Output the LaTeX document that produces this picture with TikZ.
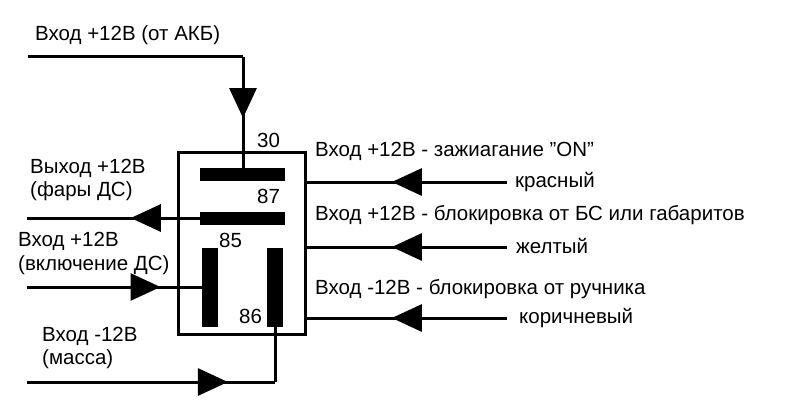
\documentclass[tikz,border=0pt]{standalone}
\usepackage{fontspec}
\setmainfont{Liberation Sans}
\usetikzlibrary{arrows.meta,decorations.markings}
\begin{document}
\begin{tikzpicture}[x=1pt,y=-1pt,
  wire/.style={line width=3pt},
  bar/.style={line width=13pt},
  vbar/.style={line width=16pt},
  mid/.style={postaction={decorate},decoration={markings,mark=at position #1 with {\arrow{Triangle[length=30pt,width=27pt]}}}},
  lbl/.style={font=\fontsize{20.5}{22}\selectfont,inner sep=0pt,anchor=west}]
\useasboundingbox (0,0) rectangle (800,404);
\fill[white] (0,0) rectangle (800,404);
\draw[wire] (178,152) rectangle (305,334);
% bars
\coordinate (b87l) at (200,174); \coordinate (b87r) at (285,174);
\coordinate (b85l) at (200,218); \coordinate (b85r) at (285,218);
\draw[bar] (b87l) -- (b87r);
\draw[bar] (b85l) -- (b85r);
\coordinate (vlt) at (210,248); \coordinate (vlb) at (210,327);
\coordinate (vrt) at (275,248); \coordinate (vrb) at (275,327);
\draw[vbar] (vlt) -- (vlb);
\draw[vbar] (vrt) -- (vrb);
% top wire
\coordinate (a0) at (28,57); \coordinate (a1) at (243,57); \coordinate (a2) at (243,168);
\draw[wire] (a0) -- (a1);
\draw[wire,mid=0.55] (a1) -- (a2);
% output 85 wire
\coordinate (o1) at (27,218);
\draw[wire,mid=0.40] (b85l) -- (o1);
% input DS
\coordinate (i0) at (27,287); \coordinate (i1) at (205,287);
\draw[wire,mid=0.75] (i0) -- (i1);
% ground
\coordinate (g0) at (27,382); \coordinate (g1) at (275,382);
\draw[wire,mid=0.81] (g0) -- (g1);
\draw[wire] (g1) -- (vrb);
% right wires
\foreach \y/\n in {182/r1,247/r2,318/r3}{
  \coordinate (\n a) at (507,\y); \coordinate (\n b) at (305,\y);
  \draw[wire,mid=0.57] (\n a) -- (\n b);
}
% labels
\node[lbl] (t1) at (35,35) {Вход +12В (от АКБ)};
\node[lbl] (t30) at (257,140) {30};
\node[lbl] (t87) at (257,196) {87};
\node[lbl] (t85) at (219,240) {85};
\node[lbl] (t86) at (239,316) {86};
\node[lbl] (t2) at (30,168) {Выход +12В};
\node[lbl] (t3) at (30,191) {(фары ДС)};
\node[lbl] (t4) at (18,241) {Вход +12В};
\node[lbl] (t5) at (18,265) {(включение ДС)};
\node[lbl] (t6) at (42,336) {Вход -12В};
\node[lbl] (t7) at (42,359) {(масса)};
\node[lbl] (t8) at (315,151) {Вход +12В - зажиагание \symbol{34}ON\symbol{34}};
\node[lbl] (t9) at (315,215) {Вход +12В - блокировка от БС или габаритов};
\node[lbl] (t10) at (315,289) {Вход -12В - блокировка от ручника};
\node[lbl] (c1) at (515,182) {красный};
\node[lbl] (c2) at (516,246) {желтый};
\node[lbl] (c3) at (519,318) {коричневый};
\end{tikzpicture}
\end{document}
